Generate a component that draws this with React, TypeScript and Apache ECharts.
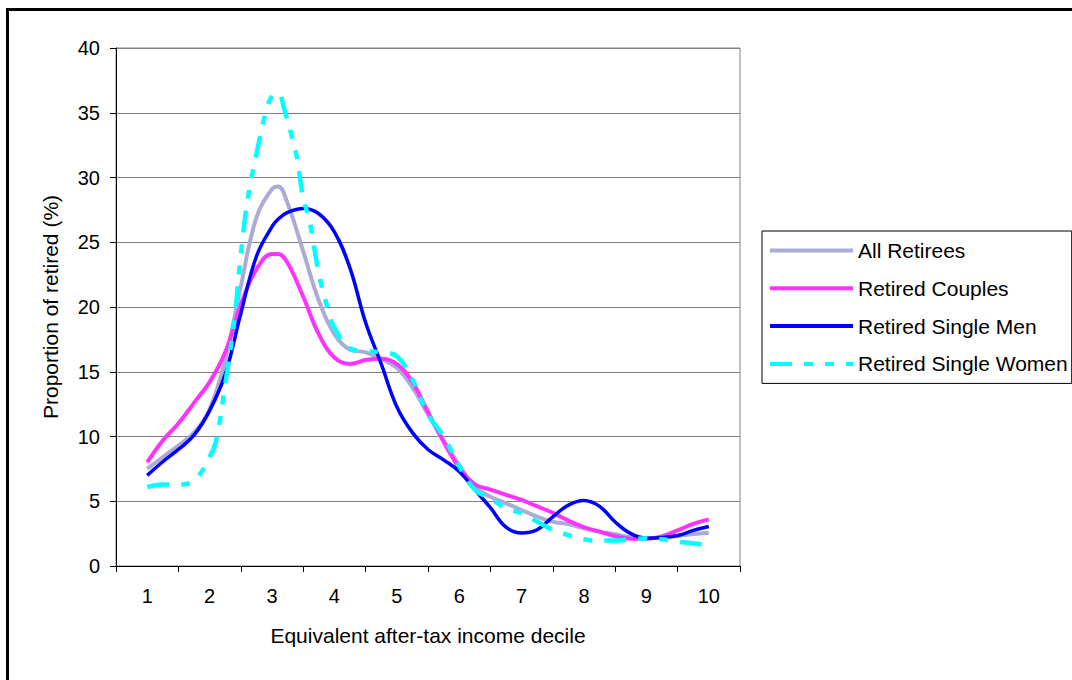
import React, { useEffect, useRef } from "react";
import * as echarts from "echarts";

const deciles = ["1", "2", "3", "4", "5", "6", "7", "8", "9", "10"];

const gridX = [1, 1.25, 1.5, 1.75, 2, 2.25, 2.5, 2.75, 3, 3.1, 3.25, 3.5, 3.75, 4, 4.25, 4.5, 4.75, 5, 5.25, 5.5, 5.75, 6, 6.25, 6.5, 6.75, 7, 7.25, 7.5, 7.75, 8, 8.25, 8.5, 8.75, 9, 9.25, 9.5, 9.75, 10];

const allRetirees = [7.5, 8.4, 9.3, 10.3, 12.1, 15.9, 21.6, 26.9, 29.1, 29.3, 28.0, 24.3, 20.5, 17.9, 16.7, 16.5, 16.0, 15.3, 13.8, 11.7, 9.7, 7.8, 6.1, 5.35, 4.84, 4.32, 3.81, 3.42, 3.24, 2.91, 2.65, 2.45, 2.21, 2.14, 2.21, 2.32, 2.47, 2.57];

const retiredCouples = [8.0, 9.7, 11.0, 12.6, 14.2, 16.5, 20.2, 22.9, 24.1, 24.1, 23.4, 20.8, 17.9, 16.1, 15.6, 15.9, 16.0, 15.6, 14.2, 11.9, 9.6, 7.6, 6.3, 5.9, 5.5, 5.1, 4.6, 4.1, 3.5, 3.0, 2.65, 2.3, 2.1, 2.1, 2.3, 2.75, 3.25, 3.6];

const singleMen = [7.0, 8.05, 9.0, 10.1, 12.0, 14.8, 19.5, 23.9, 26.2, 26.8, 27.3, 27.6, 27.2, 25.8, 23.0, 18.8, 15.6, 12.3, 10.3, 9.0, 8.2, 7.3, 5.9, 4.5, 3.0, 2.55, 2.8, 3.8, 4.7, 5.05, 4.6, 3.4, 2.5, 2.15, 2.2, 2.35, 2.75, 3.05];

const womenX = [1, 1.25, 1.5, 1.75, 2, 2.1, 2.25, 2.4, 2.5, 2.6, 2.75, 2.9, 3.0, 3.1, 3.2, 3.3, 3.4, 3.5, 3.6, 3.75, 3.9, 4.0, 4.25, 4.5, 4.75, 5.0, 5.25, 5.5, 5.75, 6.0, 6.25, 6.5, 6.75, 7.0, 7.25, 7.5, 7.75, 8.0, 8.25, 8.5, 8.75, 9.0, 9.25, 9.5, 9.75, 10];
const singleWomen = [6.1, 6.3, 6.3, 6.6, 8.4, 9.6, 14.0, 19.2, 24.0, 28.0, 31.8, 35.0, 36.3, 36.5, 35.2, 33.5, 31.5, 28.4, 26.7, 22.6, 19.8, 18.4, 16.8, 16.6, 16.5, 16.2, 14.4, 11.7, 10.0, 7.7, 5.9, 5.2, 4.45, 4.07, 3.42, 2.78, 2.39, 2.06, 1.96, 1.96, 2.06, 2.14, 2.06, 1.88, 1.75, 1.62];

const yTicks = { min: 0, max: 40, interval: 5 };

const FONT = "'Liberation Sans', Arial, sans-serif";

export default function App() {
  const ref = useRef<HTMLDivElement>(null);
  useEffect(() => {
    if (!ref.current) return;
    const chart = echarts.init(ref.current, null, { renderer: "svg" });
    const pairs = (xs: number[], ys: number[]) => xs.map((x, i) => [x, ys[i]]);
    chart.setOption({
      animation: false,
      backgroundColor: "#fff",
      textStyle: { fontFamily: FONT },
      grid: {
        left: 116,
        top: 48,
        right: 332,
        bottom: 114,
        show: true,
        borderColor: "#808080",
        borderWidth: 1,
        backgroundColor: "transparent",
      },
      graphic: [
        {
          type: "rect",
          silent: true,
          z: -10,
          shape: { x: 7.5, y: 9.5, width: 1200, height: 800 },
          style: { fill: "none", stroke: "#000", lineWidth: 3 },
        },
      ],
      legend: {
        orient: "vertical",
        left: 762,
        top: 231,
        padding: [9, 4, 9, 6],
        itemWidth: 83,
        itemHeight: 19,
        itemGap: 16.8,
        borderColor: "#000",
        borderWidth: 1,
        itemStyle: { opacity: 0 },
        lineStyle: { width: 4 },
        textStyle: { fontSize: 21, color: "#000", fontFamily: FONT, lineHeight: 21 },
        data: ["All Retirees", "Retired Couples", "Retired Single Men", "Retired Single Women"],
      },
      xAxis: [
        {
          type: "category",
          data: deciles,
          boundaryGap: true,
          name: "Equivalent after-tax income decile",
          nameLocation: "middle",
          nameGap: 59,
          nameTextStyle: { fontSize: 21, color: "#000", fontFamily: FONT },
          axisLine: { lineStyle: { color: "#000", width: 1 } },
          axisTick: { show: true, interval: 0, length: 6, lineStyle: { color: "#000" } },
          axisLabel: { fontSize: 20, color: "#000", margin: 20, fontFamily: FONT },
          splitLine: { show: false },
        },
        {
          type: "value",
          min: 0.5,
          max: 10.5,
          show: false,
        },
      ],
      yAxis: {
        type: "value",
        min: yTicks.min,
        max: yTicks.max,
        interval: yTicks.interval,
        name: "Proportion of retired (%)",
        nameLocation: "middle",
        nameGap: 55,
        nameTextStyle: { fontSize: 21, color: "#000", fontFamily: FONT },
        axisLine: { show: true, lineStyle: { color: "#000", width: 1 } },
        axisTick: { show: true, length: 6, lineStyle: { color: "#000" } },
        axisLabel: { fontSize: 20, color: "#000", margin: 16, fontFamily: FONT },
        splitLine: { show: true, lineStyle: { color: "#808080", width: 1 } },
      },
      series: [
        {
          name: "All Retirees",
          type: "line",
          xAxisIndex: 1,
          data: pairs(gridX, allRetirees),
          smooth: 0.4,
          symbol: "none",
          lineStyle: { color: "#ABABD5", width: 4 },
          itemStyle: { color: "#ABABD5" },
        },
        {
          name: "Retired Couples",
          type: "line",
          xAxisIndex: 1,
          data: pairs(gridX, retiredCouples),
          smooth: 0.4,
          symbol: "none",
          lineStyle: { color: "#FF33FF", width: 4 },
          itemStyle: { color: "#FF33FF" },
        },
        {
          name: "Retired Single Men",
          type: "line",
          xAxisIndex: 1,
          data: pairs(gridX, singleMen),
          smooth: 0.4,
          symbol: "none",
          lineStyle: { color: "#0000FF", width: 3.5 },
          itemStyle: { color: "#0000FF" },
        },
        {
          name: "Retired Single Women",
          type: "line",
          xAxisIndex: 1,
          data: pairs(womenX, singleWomen),
          smooth: 0.4,
          symbol: "none",
          lineStyle: { color: "#00FFFF", width: 4.5, type: [22, 12, 9, 12, 9, 12] },
          itemStyle: { color: "#00FFFF" },
        },
      ],
    });
    return () => chart.dispose();
  }, []);
  return (
    <div
      ref={ref}
      style={{ position: "fixed", left: 0, top: 0, width: 1072, height: 680, background: "#fff" }}
    />
  );
}
